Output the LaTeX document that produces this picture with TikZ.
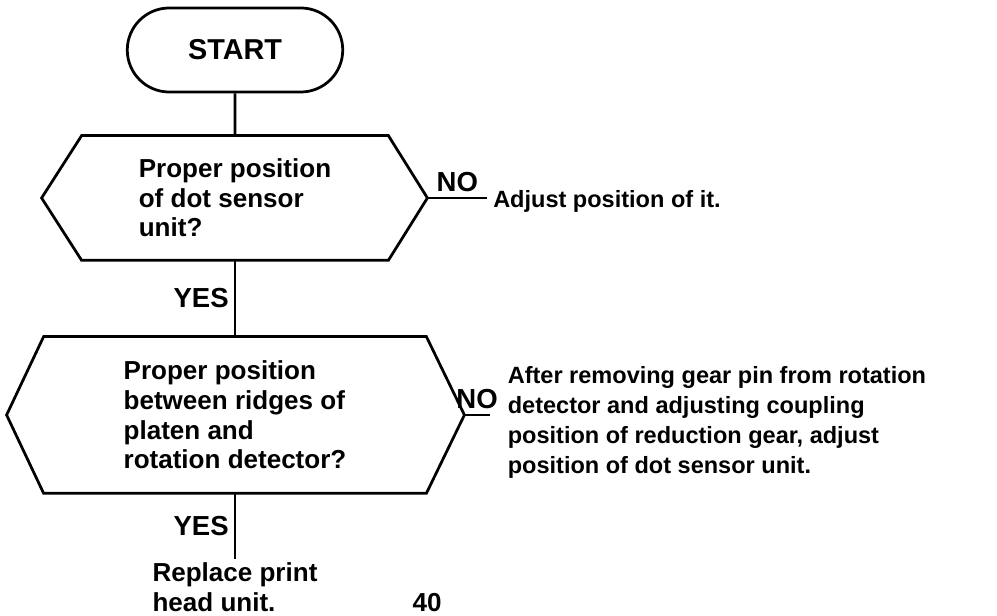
\documentclass[tikz,border=0pt]{standalone}
\usepackage{fontspec}
\setmainfont{Liberation Sans}
\usetikzlibrary{positioning,shapes.misc}

\begin{document}
\begin{tikzpicture}[font=\fontsize{10.4}{11.8}\selectfont\bfseries,
    line width=1.1pt,
    term/.style={draw,rounded rectangle,minimum width=3.26cm,minimum height=1.18cm,
                 font=\fontsize{11.5}{13}\selectfont\bfseries},
    query/.style={align=left,inner sep=2pt},
    note/.style={align=left,inner sep=1pt},
    remedy/.style={note,font=\fontsize{9.4}{12}\selectfont\bfseries},
    lbl/.style={font=\fontsize{11}{13}\selectfont\bfseries,inner sep=2pt}]
  \useasboundingbox (0,0) rectangle (14,-8.636);
  \node[term] (start) at (3.30,-0.702) {START};
  \node[query,minimum width=4.269cm,minimum height=1.713cm] (q1) at (3.30,-2.78)
    {Proper position\\of dot sensor\\unit?};
  \node[query,minimum width=5.336cm,minimum height=2.162cm] (q2) at (3.30,-5.827)
    {Proper position\\between ridges of\\platen and\\rotation detector?};
  % hexagon points
  \coordinate (q1r) at ([xshift=0.548cm]q1.east);
  \coordinate (q1l) at ([xshift=-0.562cm]q1.west);
  \coordinate (q2r) at ([xshift=0.534cm]q2.east);
  \coordinate (q2l) at ([xshift=-0.52cm]q2.west);
  \draw (q1.north west) -- (q1.north east) -- (q1r) -- (q1.south east)
        -- (q1.south west) -- (q1l) -- cycle;
  \draw (q2.north west) -- (q2.north east) -- (q2r) -- (q2.south east)
        -- (q2.south west) -- (q2l) -- cycle;

  \node[remedy,right=0.87cm of q1r,yshift=-0.05cm] (fix1) {Adjust position of it.};
  \node[remedy,right=0.555cm of q2r,yshift=-0.1cm] (fix2)
    {After removing gear pin from rotation\\detector and adjusting coupling\\position of reduction gear, adjust\\position of dot sensor unit.};
  \node[note,below=0.92cm of q2] (fix3) {Replace print\\head unit.};
  \node (pageno) at (5.996,-8.467) {40};

  \draw (start) -- (q1);
  \draw (q1) -- node[lbl,left] {YES} (q2);
  \draw (q2) -- node[lbl,left] {YES} (fix3);
  \draw (q1r) -- node[lbl,above] {NO} ([xshift=-0.03cm]fix1.west |- q1r);
  \draw (q2r) -- node[lbl,above] {NO} ([xshift=-0.2cm]fix2.west |- q2r);
\end{tikzpicture}
\end{document}
